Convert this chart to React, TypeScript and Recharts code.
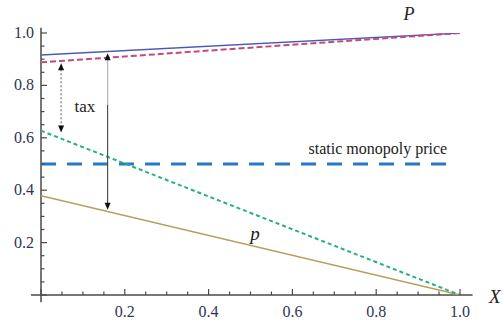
import { LineChart, Line, XAxis, YAxis, ReferenceLine, ReferenceDot } from 'recharts';

// two-point lines
const bigP = [{ x: 0, y: 0.916 }, { x: 1, y: 1.0 }];
const pinkDashed = [{ x: 0, y: 0.888 }, { x: 1, y: 1.0 }];
const greenDashed = [{ x: 0, y: 0.627 }, { x: 1, y: 0 }];
const smallP = [{ x: 0, y: 0.379 }, { x: 1, y: 0 }];

const monopolyPrice = 0.5;
const monopolyEnd = 0.98;

const taxArrow = { x: 0.048, from: 0.885, to: 0.62 };
const gapArrow = { x: 0.159, from: 0.923, to: 0.325 };

const xTicks = [0, 0.05, 0.1, 0.15, 0.2, 0.25, 0.3, 0.35, 0.4, 0.45, 0.5, 0.55, 0.6, 0.65, 0.7, 0.75, 0.8, 0.85, 0.9, 0.95, 1.0];
const yTicks = [0, 0.05, 0.1, 0.15, 0.2, 0.25, 0.3, 0.35, 0.4, 0.45, 0.5, 0.55, 0.6, 0.65, 0.7, 0.75, 0.8, 0.85, 0.9, 0.95, 1.0];

const labels = [
  { text: 'P', x: 0.878, y: 1.072, italic: true, size: 18 },
  { text: 'p', x: 0.511, y: 0.235, italic: true, size: 19 },
  { text: 'tax', x: 0.105, y: 0.718, italic: false, size: 17 },
  { text: 'static monopoly price', x: 0.804, y: 0.561, italic: false, size: 16 },
  { text: 'X', x: 1.083, y: -0.004, italic: true, size: 19 },
];

const SERIF = 'Liberation Serif';
const AXIS = '#4a4a4a';
const TICK_TEXT = '#2e3556';

const isMajor = (v: number) => Math.abs(v * 5 - Math.round(v * 5)) < 1e-6;

const XTick = (props: any) => {
  const { x, y, payload } = props;
  const v = payload.value;
  const major = isMajor(v);
  return (
    <g>
      <line x1={x} y1={y} x2={x} y2={y - (major ? 6 : 3.5)} stroke={AXIS} strokeWidth={1.2} />
      {major && v !== 0 && (
        <text x={x} y={y + 22} textAnchor="middle" fontFamily={SERIF} fontSize={16} fill={TICK_TEXT}>
          {v.toFixed(1)}
        </text>
      )}
    </g>
  );
};

const YTick = (props: any) => {
  const { x, y, payload } = props;
  const v = payload.value;
  const major = isMajor(v);
  return (
    <g>
      <line x1={x} y1={y} x2={x + (major ? 6 : 3.5)} y2={y} stroke={AXIS} strokeWidth={1.2} />
      {major && v !== 0 && (
        <text x={x - 7} y={y + 5} textAnchor="end" fontFamily={SERIF} fontSize={16} fill={TICK_TEXT}>
          {v.toFixed(1)}
        </text>
      )}
    </g>
  );
};

// vertical double-headed arrow; the upper part of the shaft can be drawn lighter
const arrowShape = (color: string, dash?: string, upperColor?: string) => (props: any) => {
  const { x1, y1, y2 } = props;
  const top = Math.min(y1, y2);
  const bot = Math.max(y1, y2);
  const h = 7;
  const w = 3;
  const split = upperColor ? top + (bot - top) * 0.33 : top + h - 1;
  return (
    <g>
      {upperColor && <line x1={x1} y1={top + h - 1} x2={x1} y2={split} stroke={upperColor} strokeWidth={1.2} />}
      <line x1={x1} y1={split} x2={x1} y2={bot - h + 1} stroke={color} strokeWidth={1.1} strokeDasharray={dash} />
      <polygon points={`${x1},${top} ${x1 - w},${top + h} ${x1 + w},${top + h}`} fill="#111" />
      <polygon points={`${x1},${bot} ${x1 - w},${bot - h} ${x1 + w},${bot - h}`} fill="#111" />
    </g>
  );
};

const textShape = (l: (typeof labels)[number]) => (props: any) => (
  <text
    x={props.cx}
    y={props.cy}
    textAnchor="middle"
    dominantBaseline="central"
    fontFamily={SERIF}
    fontSize={l.size}
    fontStyle={l.italic ? 'italic' : 'normal'}
    fill="#222"
  >
    {l.text}
  </text>
);

export default function App() {
  return (
    <div style={{ position: 'absolute', left: 0, top: 0, width: 503, height: 320, background: '#fff' }}>
      <LineChart width={503} height={320} margin={{ top: 33, right: 43, bottom: 0, left: 0 }}>
        <XAxis
          dataKey="x"
          type="number"
          domain={[0, 1]}
          ticks={xTicks}
          interval={0}
          height={25}
          axisLine={false}
          tickLine={false}
          tickSize={0}
          tickMargin={0}
          tick={<XTick />}
          allowDataOverflow
        />
        <YAxis
          type="number"
          domain={[0, 1]}
          ticks={yTicks}
          interval={0}
          width={41}
          axisLine={false}
          tickLine={false}
          tickSize={0}
          tickMargin={0}
          tick={<YTick />}
          allowDataOverflow
        />

        <ReferenceLine
          segment={[{ x: -0.024, y: 0 }, { x: 1.03, y: 0 }]}
          stroke={AXIS}
          strokeWidth={1.5}
          ifOverflow="visible"
        />
        <ReferenceLine
          segment={[{ x: 0, y: -0.028 }, { x: 0, y: 1.02 }]}
          stroke={AXIS}
          strokeWidth={1.5}
          ifOverflow="visible"
        />

        <ReferenceLine
          segment={[{ x: 0, y: monopolyPrice }, { x: monopolyEnd, y: monopolyPrice }]}
          stroke="#2b78c0"
          strokeWidth={3}
          strokeDasharray="15 11"
          ifOverflow="visible"
        />

        <Line data={smallP} dataKey="y" stroke="#b89c5e" strokeWidth={1.5} dot={false} isAnimationActive={false} />
        <Line data={greenDashed} dataKey="y" stroke="#27b27a" strokeWidth={2} strokeDasharray="4 3" dot={false} isAnimationActive={false} />
        <Line data={bigP} dataKey="y" stroke="#4a5cb0" strokeWidth={1.3} dot={false} isAnimationActive={false} />
        <Line data={pinkDashed} dataKey="y" stroke="#c5487f" strokeWidth={2} strokeDasharray="6 3" dot={false} isAnimationActive={false} />

        <ReferenceLine
          segment={[{ x: taxArrow.x, y: taxArrow.from }, { x: taxArrow.x, y: taxArrow.to }]}
          shape={arrowShape('#666', '2 2')}
          ifOverflow="visible"
        />
        <ReferenceLine
          segment={[{ x: gapArrow.x, y: gapArrow.from }, { x: gapArrow.x, y: gapArrow.to }]}
          shape={arrowShape('#444', undefined, '#b5b5b5')}
          ifOverflow="visible"
        />

        {labels.map((l) => (
          <ReferenceDot key={l.text} x={l.x} y={l.y} r={0} ifOverflow="visible" shape={textShape(l)} />
        ))}
      </LineChart>
    </div>
  );
}
